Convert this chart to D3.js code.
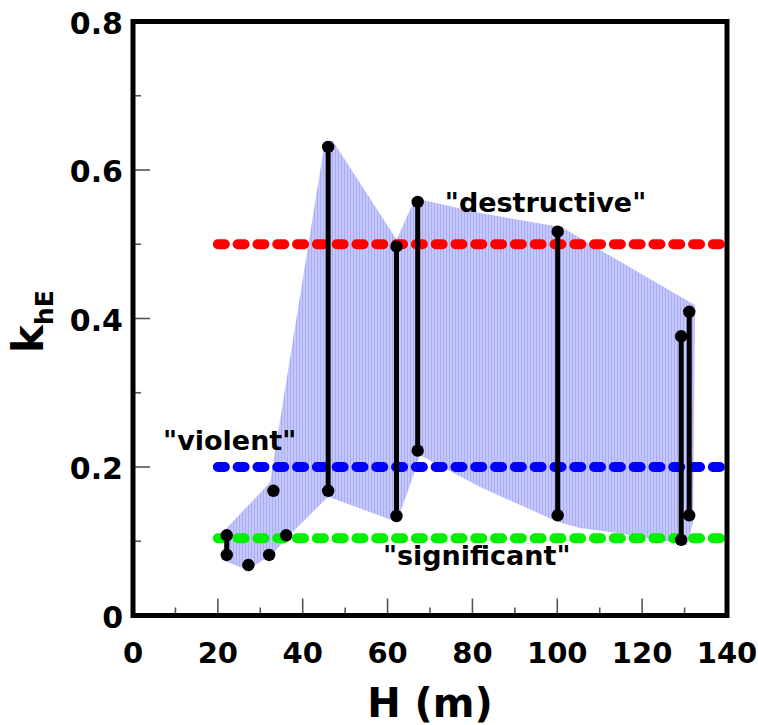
<!DOCTYPE html>
<html>
<head>
<meta charset="utf-8">
<script src="https://cdn.jsdelivr.net/npm/d3@7"></script>
<style>
  html, body { margin: 0; padding: 0; background: #fff; }
  svg text { font-family: "DejaVu Sans", sans-serif; font-weight: bold; fill: #000; }
</style>
</head>
<body>
<svg id="chart" width="758" height="725"></svg>
<script>
// Measured ranges: each stem joins the low and high k_hE found at one height H
const stemH    = [22.1, 46.0, 62.1, 67.1, 100.1, 129.2, 131.1];
const stemLow  = [0.0815, 0.168, 0.134, 0.222, 0.135, 0.102, 0.135];
const stemHigh = [0.108, 0.631, 0.497, 0.557, 0.517, 0.376, 0.409];

// Single observations
const loneH = [27.2, 32.1, 36.1, 33.1];
const loneK = [0.068, 0.0815, 0.108, 0.168];

// Envelope around all observations (traced clockwise from the lower left)
const envH = [20.9, 22.1, 32.3, 45.25, 47.1, 62.15, 66.5, 81.8, 101.1, 110.8, 132.5, 132.0, 130.6,
              114.3, 105.4, 100.2, 81.8, 67.6, 65.7, 62.15, 46.0, 37.4, 33.0, 27.1];
const envK = [0.075, 0.118, 0.179, 0.639, 0.639, 0.506, 0.562, 0.542, 0.523, 0.490, 0.418, 0.126, 0.095,
              0.111, 0.118, 0.126, 0.173, 0.216, 0.182, 0.126, 0.160, 0.111, 0.084, 0.061];

// Damage thresholds
const thresholdK      = [0.5, 0.2, 0.104];
const thresholdColors = ["#ff0000", "#0000ff", "#00f000"];
const thresholdFrom   = 20;
const thresholdTo     = 140;

// Threshold labels (anchored at their left end, on the text baseline)
const labelText = ["\"destructive\"", "\"violent\"", "\"significant\""];
const labelH    = [73.5, 7.1, 58.9];
const labelK    = [0.5434, 0.2225, 0.068];

// Axis ticks
const xTicks = [0, 20, 40, 60, 80, 100, 120, 140];
const xMinor = [10, 30, 50, 70, 90, 110, 130];
const yTicks = [0, 0.2, 0.4, 0.6, 0.8];
const yTickLabels = ["0", "0.2", "0.4", "0.6", "0.8"];
const yMinor = [0.1, 0.3, 0.5, 0.7];

const margin = { left: 133, right: 31, top: 21.5, bottom: 109.5 };
const W = 758, Hgt = 725;
const innerW = W - margin.left - margin.right;
const innerH = Hgt - margin.top - margin.bottom;

const svg = d3.select("#chart");
const x = d3.scaleLinear().domain([0, 140]).range([margin.left, margin.left + innerW]);
const y = d3.scaleLinear().domain([0, 0.8]).range([margin.top + innerH, margin.top]);

// Striped light-blue fill for the envelope
const defs = svg.append("defs");
const pat = defs.append("pattern")
  .attr("id", "stripes").attr("patternUnits", "userSpaceOnUse")
  .attr("width", 3).attr("height", 4);
pat.append("rect").attr("width", 3).attr("height", 4).attr("fill", "#c4c6fc");
pat.append("rect").attr("x", 2).attr("width", 1).attr("height", 4).attr("fill", "#a9aef3");

const envelope = envH.map((h, i) => [x(h), y(envK[i])]);
svg.append("path")
  .attr("d", d3.line().curve(d3.curveLinearClosed)(envelope))
  .attr("fill", "url(#stripes)");

// Dashed threshold lines
svg.append("g").selectAll("line")
  .data(thresholdK)
  .join("line")
  .attr("x1", x(thresholdFrom)).attr("x2", x(thresholdTo))
  .attr("y1", d => y(d)).attr("y2", d => y(d))
  .attr("stroke", (d, i) => thresholdColors[i])
  .attr("stroke-width", 10)
  .attr("stroke-linecap", "round")
  .attr("stroke-dasharray", "7 12.8");

// Range stems
svg.append("g").selectAll("line")
  .data(stemH)
  .join("line")
  .attr("x1", d => x(d)).attr("x2", d => x(d))
  .attr("y1", (d, i) => y(stemLow[i])).attr("y2", (d, i) => y(stemHigh[i]))
  .attr("stroke", "#000").attr("stroke-width", 5);

// Points
const pts = [];
stemH.forEach((h, i) => { pts.push([h, stemLow[i]]); pts.push([h, stemHigh[i]]); });
loneH.forEach((h, i) => pts.push([h, loneK[i]]));
svg.append("g").selectAll("circle")
  .data(pts)
  .join("circle")
  .attr("cx", d => x(d[0])).attr("cy", d => y(d[1]))
  .attr("r", 6.2).attr("fill", "#000");

// Minor and major ticks on the left and bottom, pointing inward
const tickG = svg.append("g").attr("stroke", "#555").attr("stroke-width", 1.6);
tickG.selectAll(".xmaj").data(xTicks).join("line")
  .attr("x1", d => x(d)).attr("x2", d => x(d))
  .attr("y1", y(0)).attr("y2", y(0) - 17);
tickG.selectAll(".xmin").data(xMinor).join("line")
  .attr("x1", d => x(d)).attr("x2", d => x(d))
  .attr("y1", y(0)).attr("y2", y(0) - 8);
tickG.selectAll(".ymaj").data(yTicks).join("line")
  .attr("x1", x(0)).attr("x2", x(0) + 17)
  .attr("y1", d => y(d)).attr("y2", d => y(d));
tickG.selectAll(".ymin").data(yMinor).join("line")
  .attr("x1", x(0)).attr("x2", x(0) + 8)
  .attr("y1", d => y(d)).attr("y2", d => y(d));

// Frame
svg.append("rect")
  .attr("x", x(0)).attr("y", y(0.8))
  .attr("width", x(140) - x(0)).attr("height", y(0) - y(0.8))
  .attr("fill", "none").attr("stroke", "#000").attr("stroke-width", 5);

// Tick labels
svg.append("g").selectAll("text").data(xTicks).join("text")
  .attr("x", d => x(d)).attr("y", y(0) + 47)
  .attr("text-anchor", "middle").attr("font-size", 29)
  .text(d => d);
svg.append("g").selectAll("text").data(yTicks).join("text")
  .attr("x", x(0) - 10).attr("y", d => y(d) + 12)
  .attr("text-anchor", "end").attr("font-size", 30)
  .text((d, i) => yTickLabels[i]);

// Axis titles
svg.append("text")
  .attr("x", (x(0) + x(140)) / 2).attr("y", 717)
  .attr("text-anchor", "middle").attr("font-size", 40)
  .text("H (m)");

const yt = svg.append("text")
  .attr("transform", `translate(43, ${(y(0) + y(0.8)) / 2 + 3}) rotate(-90)`)
  .attr("text-anchor", "middle").attr("font-size", 42);
yt.append("tspan").text("k");
yt.append("tspan").attr("font-size", 25).attr("dy", 10).text("hE");

// Threshold labels
svg.append("g").selectAll("text").data(labelText).join("text")
  .attr("x", (d, i) => x(labelH[i])).attr("y", (d, i) => y(labelK[i]))
  .attr("font-size", 27)
  .text(d => d);
</script>
</body>
</html>
